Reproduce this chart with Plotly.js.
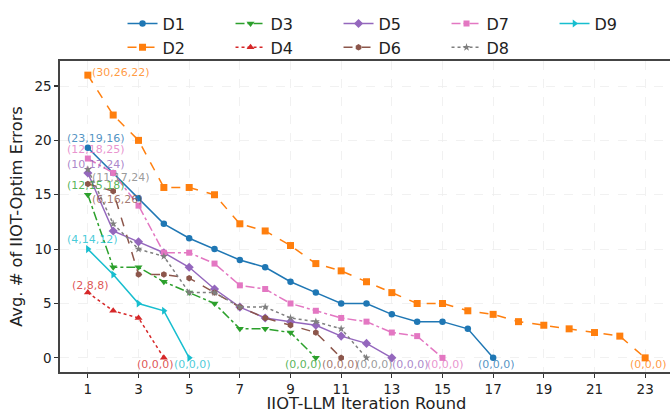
<!DOCTYPE html>
<html>
<head>
<meta charset="utf-8">
<script src="https://cdn.plot.ly/plotly-3.0.1.min.js"></script>
<style>
html,body{margin:0;padding:0;overflow:hidden;background:#fff;}
#chart{width:673px;height:413px;}
</style>
</head>
<body>
<div id="chart"></div>
<script>
// ---- data ----
const seriesNames = ["D1","D2","D3","D4","D5","D6","D7","D8","D9"];
const D1 = [19.33,17,14.67,12.33,11,10,9,8.33,7,6,5,5,4,3.33,3.33,2.67,0];
const D2 = [26,22.33,20,15.67,15.67,15,12.33,11.67,10.33,8.67,8,7,6,5,5,4.33,4,3.33,3,2.67,2.33,2,0];
const D3 = [15,8.33,8.33,7,6,5,2.67,2.67,2.33,0];
const D4 = [6,4.33,3.67,0];
const D5 = [17,11.67,10.67,9.67,8.33,6.33,4.67,3.67,3.33,3,2,1.33,0];
const D6 = [16,15.33,7.67,7.67,7.33,6,4.67,3.67,3,2.33,0];
const D7 = [18.33,17,14,9.67,9.67,8.67,6.67,6.33,5,4.33,3.67,3.33,2.33,2,0];
const D8 = [17.33,12.33,10,9.33,6,6,4.67,4.67,3.67,3.33,2.67,0];
const D9 = [10,7.67,5,4.33,0];
const startLabels = ["(23,19,16)","(30,26,22)","(12,15,18)","(2,8,8)","(10,17,24)","(6,16,26)","(12,18,25)","(11,17,24)","(4,14,12)"];
const endLabels = ["(0,0,0)","(0,0,0)","(0,0,0)","(0,0,0)","(0,0,0)","(0,0,0)","(0,0,0)","(0,0,0)","(0,0,0)"];
const xTickVals = [1,3,5,7,9,11,13,15,17,19,21,23];
const yTickVals = [0,5,10,15,20,25];

// ---- styles ----
const allData = [D1,D2,D3,D4,D5,D6,D7,D8,D9];
const colors = ["#1f77b4","#ff7f0e","#2ca02c","#d62728","#9467bd","#8c564b","#e377c2","#7f7f7f","#17becf"];
const labelColors = ["rgba(31,119,180,0.8)","rgba(255,127,14,0.8)","rgba(44,160,44,0.8)","rgba(214,39,40,0.8)","rgba(148,103,189,0.8)","rgba(140,86,75,0.8)","rgba(227,119,194,0.8)","rgba(127,127,127,0.8)","rgba(23,190,207,0.8)"];
const dashes = ["solid","dash","dashdot","dot","solid","dash","dashdot","dot","solid"];
const symbols = ["circle","square","triangle-down","triangle-up","diamond","hexagon","square","star","triangle-right"];
const msizes = [6.5,7,7,7,7,6.5,6,6,7];
const ranks = [1,6,2,7,3,8,4,9,5];
const startShift = [[8,9.5],[33,3],[8,9],[3,7],[8,9],[30,-15.5],[8,9],[33,-8],[4.5,9.5]];
const endShift = [3,3,-12,-8,18.5,-1,3.5,7.5,3];

const FONT = "DejaVu Sans";
const traces = [];
const annotations = [];
allData.forEach((vals, i) => {
  const xs = vals.map((v, k) => k + 1);
  traces.push({
    type: "scatter", mode: "lines+markers", name: seriesNames[i],
    x: xs, y: vals, legendrank: ranks[i],
    line: {color: colors[i], width: 1.5, dash: dashes[i]},
    marker: {color: colors[i], symbol: symbols[i], size: msizes[i], line: {width: 0}}
  });
  annotations.push({
    x: xs[0], y: vals[0], xref: "x", yref: "y", text: startLabels[i], showarrow: false,
    xanchor: "center", yanchor: "middle", xshift: startShift[i][0], yshift: startShift[i][1],
    font: {family: FONT, size: 11, color: labelColors[i]}
  });
  annotations.push({
    x: xs[xs.length - 1], y: vals[vals.length - 1], xref: "x", yref: "y", text: endLabels[i], showarrow: false,
    xanchor: "center", yanchor: "middle", xshift: endShift[i], yshift: -6.5,
    font: {family: FONT, size: 11, color: labelColors[i]}
  });
});

const layout = {
  width: 673, height: 413,
  margin: {l: 60, r: 0, t: 61, b: 41, pad: 0},
  paper_bgcolor: "#fff", plot_bgcolor: "#fff",
  font: {family: FONT, size: 13, color: "#222"},
  showlegend: true,
  legend: {
    orientation: "h", x: 0.102, xanchor: "left", y: 1.175, yanchor: "top",
    font: {family: FONT, size: 16, color: "#222"},
    entrywidth: 63, entrywidthmode: "pixels",
    bgcolor: "rgba(0,0,0,0)", traceorder: "normal", itemwidth: 30
  },
  xaxis: {
    range: [-0.1, 24.1], tickvals: xTickVals, ticks: "outside", ticklen: 4, tickwidth: 1.2, tickcolor: "#333",
    showline: true, mirror: true, linecolor: "#444", linewidth: 1.6,
    showgrid: true, gridcolor: "#ededed", griddash: "dash", gridwidth: 0.8, zeroline: false,
    tickfont: {family: FONT, size: 13.5, color: "#222"},
    title: {text: "IIOT-LLM Iteration Round", font: {family: FONT, size: 16.3, color: "#222"}, standoff: 8}
  },
  yaxis: {
    range: [-1.3, 27.3], tickvals: yTickVals, ticks: "outside", ticklen: 4, tickwidth: 1.2, tickcolor: "#333",
    showline: true, mirror: true, linecolor: "#444", linewidth: 1.6,
    showgrid: true, gridcolor: "#ededed", griddash: "dash", gridwidth: 0.8, zeroline: false,
    tickfont: {family: FONT, size: 13.5, color: "#222"},
    title: {text: "Avg. # of IIOT-Optim Errors", font: {family: FONT, size: 16.3, color: "#222"}, standoff: 8}
  },
  annotations: annotations
};

Plotly.newPlot("chart", traces, layout, {displayModeBar: false, staticPlot: true});
</script>
</body>
</html>
